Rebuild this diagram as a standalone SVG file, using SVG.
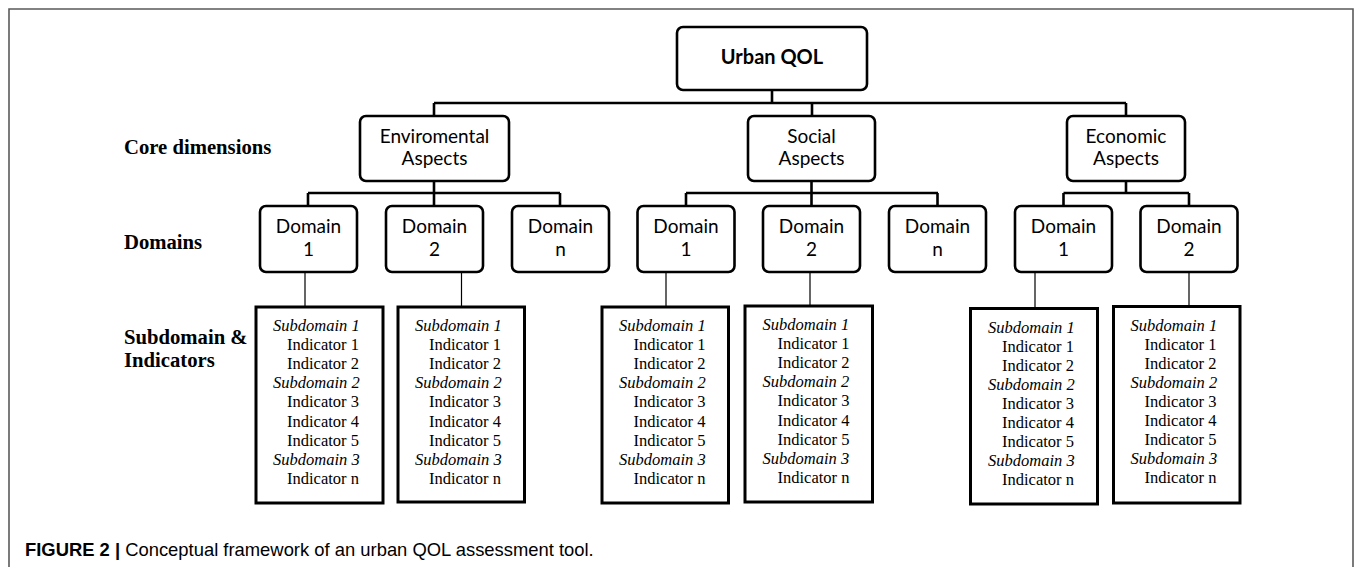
<svg xmlns="http://www.w3.org/2000/svg" width="1355" height="567" viewBox="0 0 1355 567">
<style>
.frame{fill:none;stroke:#5a5a5a;stroke-width:1.6}
.rbox{fill:#fff;stroke:#000;stroke-width:2.6}
.sbox{fill:#fff;stroke:#000;stroke-width:3}
.conn{fill:none;stroke:#000;stroke-width:2.6}
.thin{fill:none;stroke:#000;stroke-width:1.2}
.bt{font-family:Lato,"Liberation Sans",sans-serif;font-size:19px;fill:#000;text-anchor:middle}
.bq{font-family:Lato,"Liberation Sans",sans-serif;font-size:20px;font-weight:bold;fill:#000;text-anchor:middle}
.lab{font-family:"Liberation Serif",serif;font-size:20.7px;font-weight:bold;fill:#000}
.st{font-family:"Liberation Serif",serif;font-size:16.5px;fill:#000}
.it{font-style:italic}
.cap{font-family:"Liberation Sans",Arial,sans-serif;font-size:18.4px;fill:#000}
</style>
<rect width="1355" height="567" fill="#fff"/>
<path class="frame" d="M9,567 V9 H1353 V567"/>

<g id="labels">
<text class="lab" x="124" y="154">Core dimensions</text>
<text class="lab" x="124" y="249">Domains</text>
<text class="lab" x="124" y="344">Subdomain &amp;</text>
<text class="lab" x="124" y="367">Indicators</text>
</g>

<g id="connectors">
<path class="conn" d="M772,90 V103 M434,103 H1126 M434,103 V116 M812,103 V116 M1126,103 V116"/>
<path class="conn" d="M434,181 V193 M308,193 H560 M308,193 V206 M434,193 V206 M560,193 V206"/>
<path class="conn" d="M811.5,181 V193 M686,193 H938 M686,193 V206 M811.5,193 V206 M937.5,193 V206"/>
<path class="conn" d="M1126,181 V193 M1063.5,193 H1189 M1063.5,193 V206 M1189,193 V206"/>
<path class="thin" d="M305,272 V307 M461.5,272 V307 M666,272 V307 M810,272 V306 M1035,272 V309 M1189,272 V307"/>
</g>

<g id="urban-qol">
<rect class="rbox" x="677" y="27" width="190" height="63" rx="6"/>
<text class="bq" x="772" y="64">Urban QOL</text>
</g>

<g id="env-aspects">
<rect class="rbox" x="360" y="116" width="149" height="65" rx="6"/>
<text class="bt" x="434.5" y="143">Enviromental</text>
<text class="bt" x="434.5" y="165">Aspects</text>
</g>
<g id="soc-aspects">
<rect class="rbox" x="748" y="116" width="127" height="65" rx="6"/>
<text class="bt" x="811.5" y="143">Social</text>
<text class="bt" x="811.5" y="165">Aspects</text>
</g>
<g id="eco-aspects">
<rect class="rbox" x="1067" y="116" width="118" height="65" rx="6"/>
<text class="bt" x="1126" y="143">Economic</text>
<text class="bt" x="1126" y="165">Aspects</text>
</g>

<g id="env-d1"><rect class="rbox" x="260" y="206" width="97" height="66" rx="6"/><text class="bt" x="308.5" y="233">Domain</text><text class="bt" x="308.5" y="256">1</text></g>
<g id="env-d2"><rect class="rbox" x="386" y="206" width="97" height="66" rx="6"/><text class="bt" x="434.5" y="233">Domain</text><text class="bt" x="434.5" y="256">2</text></g>
<g id="env-dn"><rect class="rbox" x="512" y="206" width="97" height="66" rx="6"/><text class="bt" x="560.5" y="233">Domain</text><text class="bt" x="560.5" y="256">n</text></g>
<g id="soc-d1"><rect class="rbox" x="637.5" y="206" width="97" height="66" rx="6"/><text class="bt" x="686" y="233">Domain</text><text class="bt" x="686" y="256">1</text></g>
<g id="soc-d2"><rect class="rbox" x="763" y="206" width="97" height="66" rx="6"/><text class="bt" x="811.5" y="233">Domain</text><text class="bt" x="811.5" y="256">2</text></g>
<g id="soc-dn"><rect class="rbox" x="889" y="206" width="97" height="66" rx="6"/><text class="bt" x="937.5" y="233">Domain</text><text class="bt" x="937.5" y="256">n</text></g>
<g id="eco-d1"><rect class="rbox" x="1015" y="206" width="97" height="66" rx="6"/><text class="bt" x="1063.5" y="233">Domain</text><text class="bt" x="1063.5" y="256">1</text></g>
<g id="eco-d2"><rect class="rbox" x="1140.5" y="206" width="97" height="66" rx="6"/><text class="bt" x="1189" y="233">Domain</text><text class="bt" x="1189" y="256">2</text></g>

<g id="env-s1">
<rect class="sbox" x="256" y="307" width="127" height="196"/>
<text class="st it" x="273" y="331">Subdomain 1</text>
<text class="st" x="287" y="350.1">Indicator 1</text>
<text class="st" x="287" y="369.2">Indicator 2</text>
<text class="st it" x="273" y="388.3">Subdomain 2</text>
<text class="st" x="287" y="407.4">Indicator 3</text>
<text class="st" x="287" y="426.5">Indicator 4</text>
<text class="st" x="287" y="445.6">Indicator 5</text>
<text class="st it" x="273" y="464.7">Subdomain 3</text>
<text class="st" x="287" y="483.8">Indicator n</text>
</g>
<g id="env-s2">
<rect class="sbox" x="398" y="307" width="126.5" height="195"/>
<text class="st it" x="415" y="331">Subdomain 1</text>
<text class="st" x="429" y="350.1">Indicator 1</text>
<text class="st" x="429" y="369.2">Indicator 2</text>
<text class="st it" x="415" y="388.3">Subdomain 2</text>
<text class="st" x="429" y="407.4">Indicator 3</text>
<text class="st" x="429" y="426.5">Indicator 4</text>
<text class="st" x="429" y="445.6">Indicator 5</text>
<text class="st it" x="415" y="464.7">Subdomain 3</text>
<text class="st" x="429" y="483.8">Indicator n</text>
</g>
<g id="soc-s1">
<rect class="sbox" x="602" y="307" width="126.5" height="196"/>
<text class="st it" x="619" y="331">Subdomain 1</text>
<text class="st" x="633.5" y="350.1">Indicator 1</text>
<text class="st" x="633.5" y="369.2">Indicator 2</text>
<text class="st it" x="619" y="388.3">Subdomain 2</text>
<text class="st" x="633.5" y="407.4">Indicator 3</text>
<text class="st" x="633.5" y="426.5">Indicator 4</text>
<text class="st" x="633.5" y="445.6">Indicator 5</text>
<text class="st it" x="619" y="464.7">Subdomain 3</text>
<text class="st" x="633.5" y="483.8">Indicator n</text>
</g>
<g id="soc-s2">
<rect class="sbox" x="745" y="306" width="127.5" height="196"/>
<text class="st it" x="762.5" y="330">Subdomain 1</text>
<text class="st" x="777.5" y="349.1">Indicator 1</text>
<text class="st" x="777.5" y="368.2">Indicator 2</text>
<text class="st it" x="762.5" y="387.3">Subdomain 2</text>
<text class="st" x="777.5" y="406.4">Indicator 3</text>
<text class="st" x="777.5" y="425.5">Indicator 4</text>
<text class="st" x="777.5" y="444.6">Indicator 5</text>
<text class="st it" x="762.5" y="463.7">Subdomain 3</text>
<text class="st" x="777.5" y="482.8">Indicator n</text>
</g>
<g id="eco-s1">
<rect class="sbox" x="970.5" y="308.5" width="127" height="195.5"/>
<text class="st it" x="988" y="332.5">Subdomain 1</text>
<text class="st" x="1002" y="351.6">Indicator 1</text>
<text class="st" x="1002" y="370.7">Indicator 2</text>
<text class="st it" x="988" y="389.8">Subdomain 2</text>
<text class="st" x="1002" y="408.9">Indicator 3</text>
<text class="st" x="1002" y="428">Indicator 4</text>
<text class="st" x="1002" y="447.1">Indicator 5</text>
<text class="st it" x="988" y="466.2">Subdomain 3</text>
<text class="st" x="1002" y="485.3">Indicator n</text>
</g>
<g id="eco-s2">
<rect class="sbox" x="1113.5" y="306.5" width="126.5" height="196.5"/>
<text class="st it" x="1130.5" y="330.5">Subdomain 1</text>
<text class="st" x="1144.5" y="349.6">Indicator 1</text>
<text class="st" x="1144.5" y="368.7">Indicator 2</text>
<text class="st it" x="1130.5" y="387.8">Subdomain 2</text>
<text class="st" x="1144.5" y="406.9">Indicator 3</text>
<text class="st" x="1144.5" y="426">Indicator 4</text>
<text class="st" x="1144.5" y="445.1">Indicator 5</text>
<text class="st it" x="1130.5" y="464.2">Subdomain 3</text>
<text class="st" x="1144.5" y="483.3">Indicator n</text>
</g>

<text class="cap" x="25" y="556"><tspan font-weight="bold">FIGURE 2 | </tspan>Conceptual framework of an urban QOL assessment tool.</text>
</svg>
